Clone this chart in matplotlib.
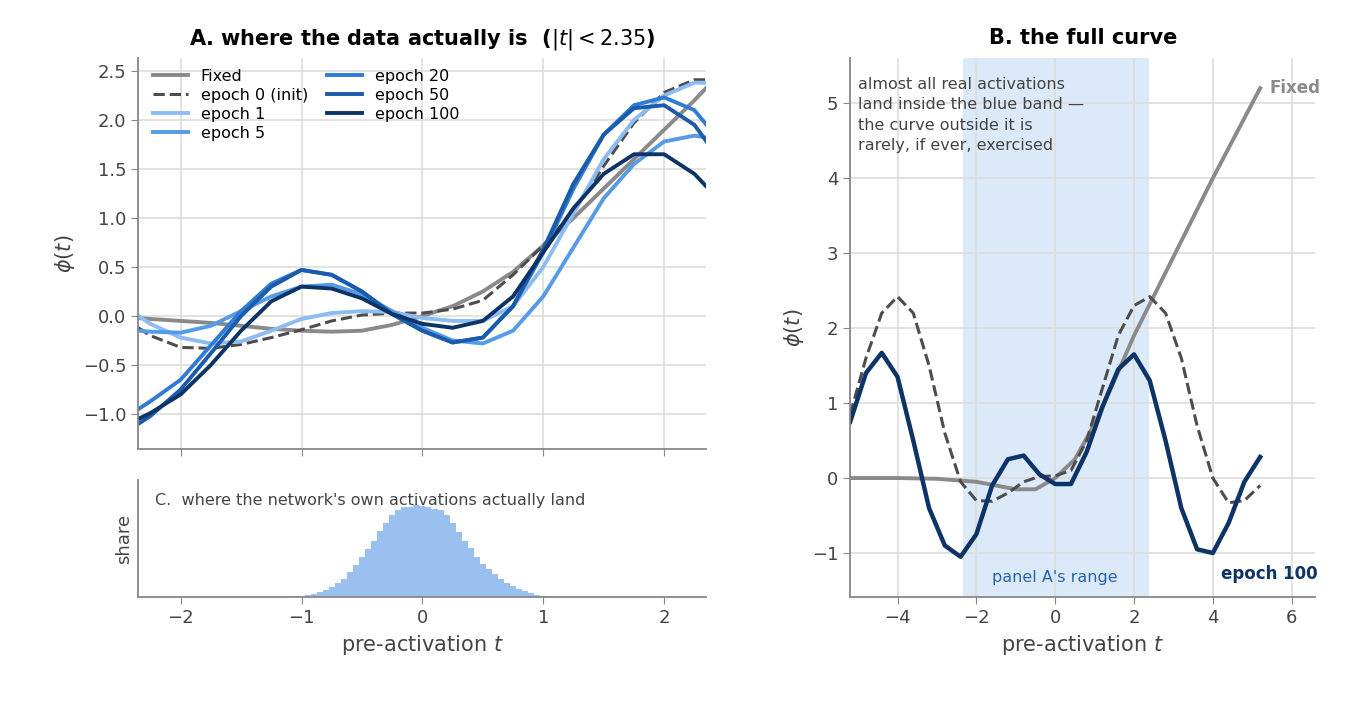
import numpy as np
import matplotlib
matplotlib.use('Agg')
import matplotlib.pyplot as plt

# panel A sample points
t_a = [-2.35, -2.25, -2.0, -1.75, -1.5, -1.25, -1.0, -0.75, -0.5, -0.25, 0.0,
       0.25, 0.5, 0.75, 1.0, 1.25, 1.5, 1.75, 2.0, 2.25, 2.35]
fixed_a = [-0.02, -0.03, -0.05, -0.07, -0.1, -0.13, -0.15, -0.16, -0.15, -0.09, 0.0,
           0.1, 0.25, 0.45, 0.72, 1.0, 1.3, 1.6, 1.9, 2.2, 2.33]
ep0_a = [-0.12, -0.2, -0.32, -0.33, -0.29, -0.22, -0.14, -0.05, 0.01, 0.03, 0.03,
         0.07, 0.16, 0.42, 0.72, 1.06, 1.53, 1.97, 2.28, 2.41, 2.41]
ep1_a = [0.0, -0.08, -0.22, -0.28, -0.26, -0.15, -0.03, 0.03, 0.05, 0.04, -0.02,
         -0.05, -0.05, 0.1, 0.5, 1.05, 1.6, 2.0, 2.25, 2.38, 2.38]
ep5_a = [-0.15, -0.16, -0.17, -0.1, 0.05, 0.2, 0.3, 0.32, 0.22, 0.05, -0.12,
         -0.25, -0.28, -0.15, 0.2, 0.7, 1.2, 1.55, 1.78, 1.84, 1.82]
ep20_a = [-0.95, -0.87, -0.65, -0.3, 0.05, 0.33, 0.47, 0.42, 0.25, 0.02, -0.15,
          -0.27, -0.22, 0.1, 0.65, 1.3, 1.85, 2.15, 2.23, 2.1, 1.95]
ep50_a = [-1.1, -1.02, -0.75, -0.38, 0.0, 0.3, 0.47, 0.42, 0.25, 0.02, -0.15,
          -0.27, -0.22, 0.1, 0.68, 1.35, 1.85, 2.12, 2.15, 1.95, 1.78]
ep100_a = [-1.05, -0.99, -0.8, -0.5, -0.15, 0.15, 0.3, 0.28, 0.18, 0.02, -0.08,
           -0.12, -0.05, 0.2, 0.65, 1.1, 1.45, 1.65, 1.65, 1.45, 1.32]

# panel B sample points
t_fixed_b = [-5.2, -4.0, -3.0, -2.0, -1.5, -1.0, -0.5, 0.0, 0.5, 1.0, 1.5, 2.0, 3.0, 4.0, 5.2]
fixed_b = [0.0, 0.0, -0.01, -0.05, -0.1, -0.15, -0.15, 0.0, 0.25, 0.72, 1.3, 1.9, 2.95, 4.0, 5.2]
t_b = [-5.2, -4.8, -4.4, -4.0, -3.6, -3.2, -2.8, -2.4, -2.0, -1.6, -1.2, -0.8, -0.4, 0.0,
       0.4, 0.8, 1.2, 1.6, 2.0, 2.4, 2.8, 3.2, 3.6, 4.0, 4.4, 4.8, 5.2]
ep0_b = [0.85, 1.6, 2.2, 2.42, 2.2, 1.5, 0.6, -0.05, -0.3, -0.31, -0.2, -0.05, 0.02, 0.03,
         0.1, 0.5, 1.2, 1.9, 2.3, 2.42, 2.2, 1.6, 0.7, 0.0, -0.33, -0.3, -0.1]
ep100_b = [0.75, 1.4, 1.67, 1.35, 0.5, -0.4, -0.9, -1.05, -0.75, -0.1, 0.25, 0.3, 0.05, -0.08,
           -0.08, 0.35, 0.95, 1.45, 1.65, 1.3, 0.5, -0.4, -0.95, -1.0, -0.6, -0.05, 0.28]

# panel C histogram (relative share per bin)
hist_centers = [round(-1.15 + 0.05 * i, 2) for i in range(47)]
hist_heights = [2, 2, 3, 4, 6, 10, 15, 22, 30, 42, 55, 75, 98, 120, 145, 170, 198, 222,
                246, 262, 272, 272, 276, 274, 272, 264, 262, 246, 222, 195, 168, 147, 122,
                100, 84, 70, 56, 44, 34, 26, 19, 13, 8, 5, 3, 2, 1]

C_FIXED = '#8a8a8a'
C_EP0 = '#4d4d4d'
C_EP = {'epoch 1': '#8dbcf2', 'epoch 5': '#559be8', 'epoch 20': '#2f7bd6',
        'epoch 50': '#1a5bab', 'epoch 100': '#0d3466'}
GRID = '#dddddd'
TXT = '#444444'

plt.rcParams['font.family'] = ['DejaVu Sans']
plt.rcParams['xtick.color'] = TXT
plt.rcParams['ytick.color'] = TXT
plt.rcParams['xtick.labelsize'] = 13
plt.rcParams['ytick.labelsize'] = 13

fig = plt.figure(figsize=(13.56, 7.01), dpi=100)
ax_a = fig.add_axes([0.102, 0.359, 0.419, 0.558])
ax_c = fig.add_axes([0.102, 0.148, 0.419, 0.167])
ax_b = fig.add_axes([0.627, 0.148, 0.343, 0.769])

def style(ax):
    for s in ['top', 'right']:
        ax.spines[s].set_visible(False)
    for s in ['left', 'bottom']:
        ax.spines[s].set_color('#888888')
        ax.spines[s].set_linewidth(1.3)
    ax.tick_params(length=5, color='#888888')

# panel A
style(ax_a)
ax_a.grid(True, color=GRID, lw=1.2)
ax_a.plot(t_a, fixed_a, color=C_FIXED, lw=2.8, label='Fixed')
ax_a.plot(t_a, ep0_a, color=C_EP0, lw=2.2, ls='--', label='epoch 0 (init)')
for name, vals in [('epoch 1', ep1_a), ('epoch 5', ep5_a), ('epoch 20', ep20_a),
                   ('epoch 50', ep50_a), ('epoch 100', ep100_a)]:
    ax_a.plot(t_a, vals, color=C_EP[name], lw=2.8, label=name)
ax_a.set_xlim(-2.35, 2.35)
ax_a.set_ylim(-1.36, 2.63)
ax_a.set_xticks([-2, -1, 0, 1, 2])
ax_a.set_xticklabels([])
ax_a.set_yticks([-1.0, -0.5, 0.0, 0.5, 1.0, 1.5, 2.0, 2.5])
ax_a.set_yticklabels(['\u22121.0', '\u22120.5', '0.0', '0.5', '1.0', '1.5', '2.0', '2.5'])
ax_a.set_ylabel(r'$\phi(t)$', fontsize=15, color=TXT)
ax_a.set_title(r'A. where the data actually is  ($|t| < 2.35$)', fontsize=15,
               fontweight='bold', pad=10)
ax_a.legend(loc='upper left', ncol=2, frameon=False, fontsize=11.5,
            handlelength=2.2, columnspacing=1.2, labelspacing=0.25,
            bbox_to_anchor=(0.0, 1.01))

# panel C
style(ax_c)
ax_c.bar(hist_centers, hist_heights, width=0.05, color='#99c0ee', edgecolor='none')
ax_c.set_xlim(-2.35, 2.35)
ax_c.set_ylim(0, 351)
ax_c.set_yticks([])
ax_c.set_xticks([-2, -1, 0, 1, 2])
ax_c.set_xticklabels(['\u22122', '\u22121', '0', '1', '2'])
ax_c.set_ylabel('share', fontsize=13, color=TXT)
ax_c.set_xlabel(r'pre-activation $t$', fontsize=15, color=TXT)
ax_c.text(0.03, 0.83, "C.  where the network's own activations actually land",
          transform=ax_c.transAxes, fontsize=11.5, color=TXT, va='center')

# panel B
style(ax_b)
ax_b.axvspan(-2.35, 2.35, color='#dce9f9', zorder=0)
ax_b.grid(True, color=GRID, lw=1.2)
ax_b.set_axisbelow(True)
ax_b.plot(t_fixed_b, fixed_b, color=C_FIXED, lw=2.8)
ax_b.plot(t_b, ep0_b, color=C_EP0, lw=2.2, ls='--')
ax_b.plot(t_b, ep100_b, color=C_EP['epoch 100'], lw=3.2)
ax_b.set_xlim(-5.2, 6.6)
ax_b.set_ylim(-1.59, 5.6)
ax_b.set_xticks([-4, -2, 0, 2, 4, 6])
ax_b.set_xticklabels(['\u22124', '\u22122', '0', '2', '4', '6'])
ax_b.set_yticks([-1, 0, 1, 2, 3, 4, 5])
ax_b.set_yticklabels(['\u22121', '0', '1', '2', '3', '4', '5'])
ax_b.set_ylabel(r'$\phi(t)$', fontsize=15, color=TXT)
ax_b.set_xlabel(r'pre-activation $t$', fontsize=15, color=TXT)
ax_b.set_title('B. the full curve', fontsize=15, fontweight='bold', pad=10)
ax_b.text(5.45, 5.2, 'Fixed', color=C_FIXED, fontsize=12, fontweight='bold', va='center')
ax_b.text(4.2, -1.28, 'epoch 100', color=C_EP['epoch 100'], fontsize=12,
          fontweight='bold', va='center')
ax_b.text(0.0, -1.33, "panel A's range", color='#2a64b0', fontsize=11.5,
          ha='center', va='center')
ax_b.text(-5.0, 5.35, 'almost all real activations\nland inside the blue band \u2014\n'
          'the curve outside it is\nrarely, if ever, exercised',
          fontsize=11.5, color=TXT, va='top', linespacing=1.45)

fig.savefig('out.png', dpi=100)
